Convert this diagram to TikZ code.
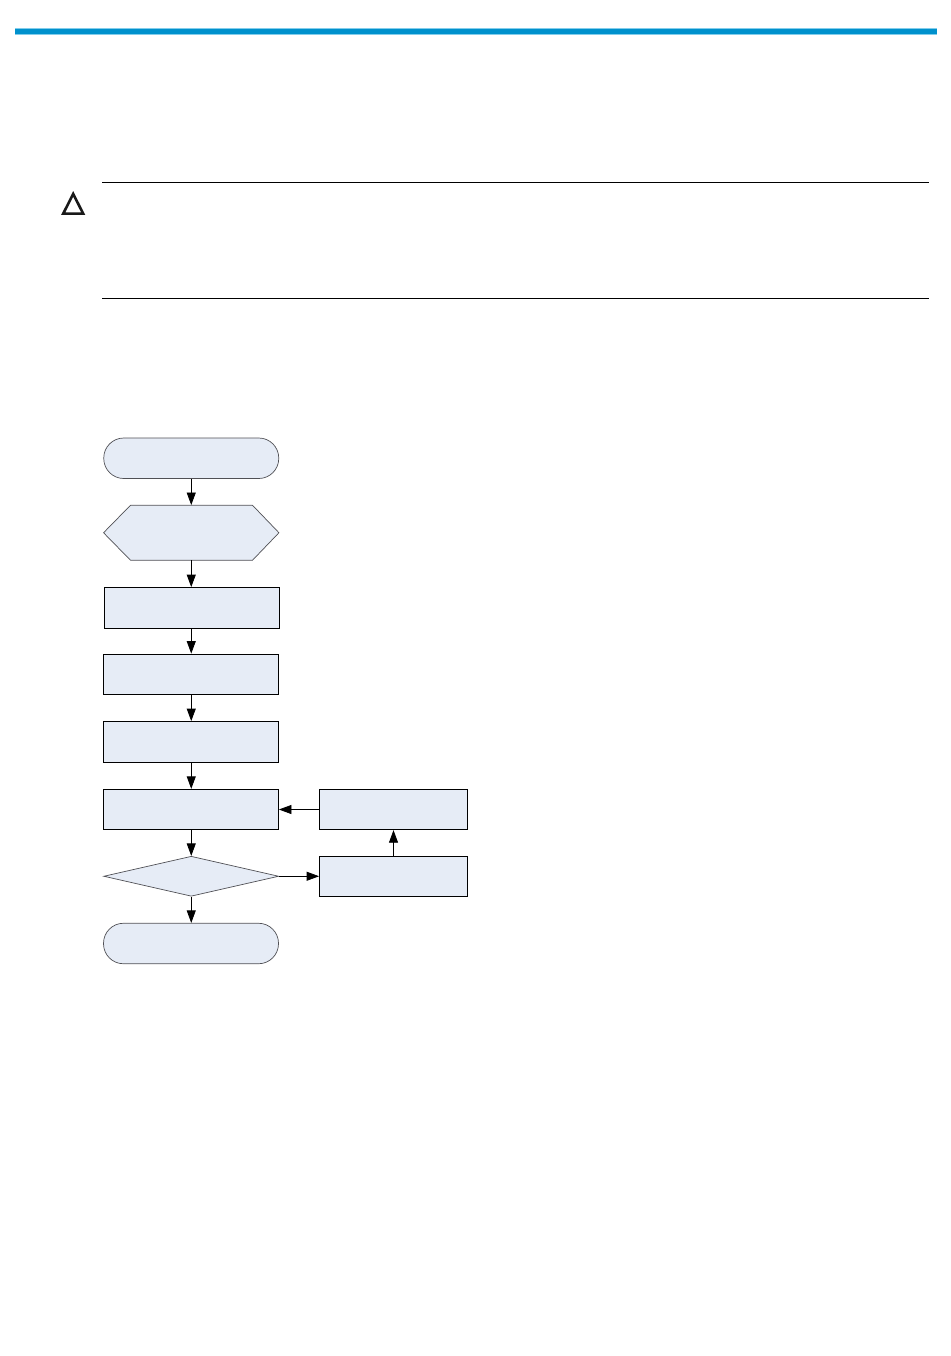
\documentclass[tikz,border=0pt]{standalone}
\usetikzlibrary{shapes.geometric,arrows.meta}
\definecolor{boxfill}{RGB}{230,236,246}
\definecolor{softline}{RGB}{80,80,85}
\definecolor{barblue}{RGB}{0,145,205}
\definecolor{baredge}{RGB}{130,205,235}
\tikzset{
  x=1pt,y=-1pt,
  flowbox/.style={draw=black,fill=boxfill,line width=0.8pt,inner sep=0pt,minimum height=40.5pt},
  widebox/.style={flowbox,minimum width=175pt},
  sidebox/.style={flowbox,minimum width=148pt},
  terminal/.style={draw=softline,fill=boxfill,line width=0.7pt,inner sep=0pt,minimum width=175pt,minimum height=40.5pt,rounded corners=20pt},
  decision/.style={draw=softline,fill=boxfill,line width=0.7pt,shape=diamond,inner sep=0pt,minimum width=175pt,minimum height=40pt,aspect=4.375},
  hexframe/.style={draw=none,inner sep=0pt,minimum width=175pt,minimum height=55pt},
  hexline/.style={draw=softline,fill=boxfill,line width=0.7pt,line join=miter},
  flow/.style={draw=black,line width=0.8pt,-{Triangle[length=12.5pt,width=9pt]}},
  rulerline/.style={draw=black,line width=0.9pt},
}
\begin{document}
\begin{tikzpicture}
\useasboundingbox (0,0) rectangle (950,1356);
% header bar
\fill[baredge] (15,28) rectangle (937,34.7);
\fill[barblue] (15,29) rectangle (937,33.7);
% caution block
\coordinate (ruleAL) at (102,182.5);
\coordinate (ruleAR) at (929,182.5);
\coordinate (ruleBL) at (102,298.5);
\coordinate (ruleBR) at (929,298.5);
\draw[rulerline] (ruleAL) -- (ruleAR);
\draw[rulerline] (ruleBL) -- (ruleBR);
\draw[draw=black!90,line width=2.6pt,miter limit=10,line join=miter] (73.2,193.9) -- (83.2,213.7) -- (63.2,213.7) -- cycle;
% flowchart
\node[terminal] (start) at (191.25,458.25) {};
\node[hexframe] (hex) at (191.25,532.75) {};
\draw[hexline] (hex.west) -- (130.5,505.25) -- (252.5,505.25) -- (hex.east) -- (252.5,560.25) -- (130.5,560.25) -- cycle;
\node[widebox] (r1) at (192,607.75) {};
\node[widebox] (r2) at (191,674.25) {};
\node[widebox] (r3) at (191,741.75) {};
\node[widebox] (r4) at (191,809.5) {};
\node[decision] (dec) at (191.25,876.25) {};
\node[terminal] (stop) at (191,943.5) {};
\node[sidebox] (s1) at (393.5,809.5) {};
\node[sidebox] (s2) at (393.5,876.5) {};
\draw[flow] (start.south) -- (start.south |- hex.north);
\draw[flow] (start.south |- hex.south) -- (start.south |- r1.north);
\draw[flow] (start.south |- r1.south) -- (start.south |- r2.north);
\draw[flow] (start.south |- r2.south) -- (start.south |- r3.north);
\draw[flow] (start.south |- r3.south) -- (start.south |- r4.north);
\draw[flow] (start.south |- r4.south) -- (dec.north);
\draw[flow] (dec.south) -- (start.south |- stop.north);
\draw[flow] (dec.east) -- (s2.west |- dec.east);
\draw[flow] (s2.north) -- (s1.south);
\draw[flow] (s1.west) -- (r4.east);
\end{tikzpicture}
\end{document}
